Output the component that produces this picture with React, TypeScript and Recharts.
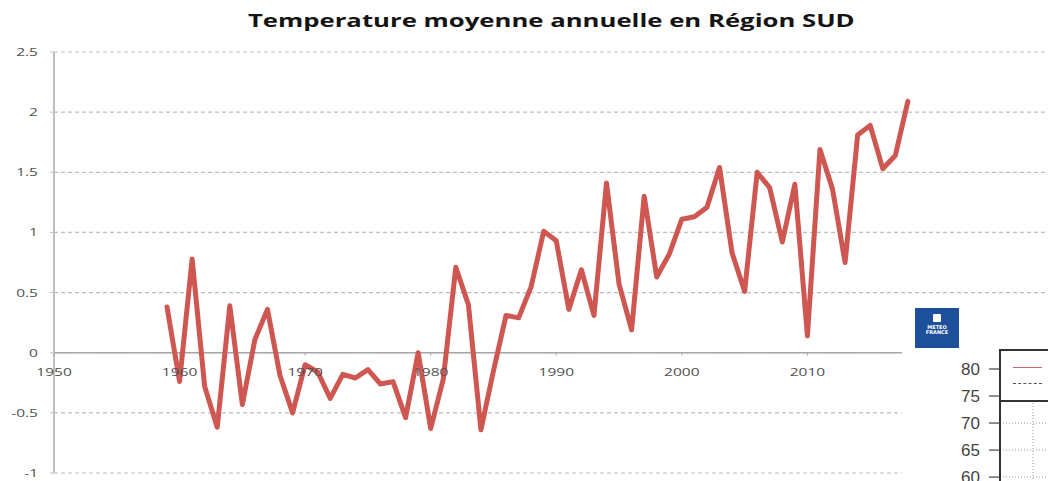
import React from "react";
import { LineChart, Line, XAxis, YAxis, CartesianGrid, ReferenceLine } from "recharts";

// ---- data ----
const YEARS = [
  1959, 1960, 1961, 1962, 1963, 1964, 1965, 1966, 1967, 1968,
  1969, 1970, 1971, 1972, 1973, 1974, 1975, 1976, 1977, 1978,
  1979, 1980, 1981, 1982, 1983, 1984, 1985, 1986, 1987, 1988,
  1989, 1990, 1991, 1992, 1993, 1994, 1995, 1996, 1997, 1998,
  1999, 2000, 2001, 2002, 2003, 2004, 2005, 2006, 2007, 2008,
  2009, 2010, 2011, 2012, 2013, 2014, 2015, 2016, 2017, 2018,
];
const ANOMALY = [
  0.38, -0.24, 0.78, -0.28, -0.62, 0.39, -0.43, 0.11, 0.36, -0.19,
  -0.5, -0.1, -0.16, -0.38, -0.18, -0.21, -0.14, -0.26, -0.24, -0.54,
  0.0, -0.63, -0.22, 0.71, 0.4, -0.64, -0.15, 0.31, 0.29, 0.55,
  1.01, 0.93, 0.36, 0.69, 0.31, 1.41, 0.57, 0.19, 1.3, 0.63,
  0.82, 1.11, 1.13, 1.21, 1.54, 0.83, 0.51, 1.5, 1.37, 0.92,
  1.4, 0.14, 1.69, 1.36, 0.75, 1.81, 1.89, 1.53, 1.64, 2.09,
];
const X_TICKS = [1950, 1960, 1970, 1980, 1990, 2000, 2010];
const Y_TICKS = [-1, -0.5, 0, 0.5, 1, 1.5, 2, 2.5];
const TITLE = "Temperature moyenne annuelle en Région SUD";

// second (partially hidden) chart
const SECOND_TICKS = [60, 65, 70, 75, 80];
const SECOND_CATS = ["a", "b"];

const data = YEARS.map((year, i) => ({ year, value: ANOMALY[i] }));
const secondData = SECOND_CATS.map((c) => ({ c, v: null }));

// ---- layout ----
const W = 1048;
const H = 481;
const M_TOP = 52;
const X_AXIS_H = 8;
const Y_AXIS_W = 54;
const M_RIGHT = 2;
const Y_MIN = -1;
const Y_MAX = 2.5;
const PLOT_H = H - M_TOP - X_AXIS_H;
const ZERO_Y = M_TOP + (PLOT_H * (Y_MAX - 0)) / (Y_MAX - Y_MIN);
const TICK_FONT = "'Open Sans', 'DejaVu Sans', sans-serif";

const XTick = (props: any) => {
  const { x, payload } = props;
  const ly = ZERO_Y + 19;
  return (
    <g>
      <line x1={x} x2={x} y1={ZERO_Y} y2={ZERO_Y + 3} stroke="#A6A6A6" strokeWidth={1} />
      <text
        transform={`translate(${x},${ly}) scale(1.35,1)`}
        textAnchor="middle"
        dy="0.35em"
        fontSize={11.5}
        fontFamily={TICK_FONT}
        fill="#505050"
      >
        {payload.value}
      </text>
    </g>
  );
};

const YTick = (props: any) => {
  const { x, y, payload } = props;
  return (
    <text
      transform={`translate(${x},${y}) scale(1.35,1)`}
      textAnchor="end"
      dy="0.35em"
      fontSize={11.5}
      fontFamily={TICK_FONT}
      fill="#505050"
    >
      {payload.value}
    </text>
  );
};

const SecondTick = (props: any) => {
  const { x, y, payload } = props;
  return (
    <text
      x={x}
      y={y}
      textAnchor="end"
      dy="0.35em"
      fontSize={17}
      fontFamily="'Liberation Sans', Arial, sans-serif"
      fill="#444444"
    >
      {payload.value}
    </text>
  );
};

export default function App() {
  return (
    <div
      style={{
        position: "absolute",
        left: 0,
        top: 0,
        width: W,
        height: H,
        background: "#ffffff",
        overflow: "hidden",
      }}
    >
      <div
        style={{
          position: "absolute",
          left: 0,
          width: 1102,
          top: 6,
          textAlign: "center",
          fontFamily: "'Open Sans', sans-serif",
          fontWeight: 700,
          fontSize: 18.5,
          color: "#141414",
          lineHeight: "28px",
        }}
      >
        <span style={{ display: "inline-block", transform: "scaleX(1.39)" }}>{TITLE}</span>
      </div>

      <div style={{ position: "absolute", left: 0, top: 0 }}>
        <LineChart
          width={W}
          height={H}
          data={data}
          margin={{ top: M_TOP, right: M_RIGHT, bottom: 0, left: 0 }}
        >
          <CartesianGrid
            horizontal
            vertical={false}
            stroke="#BDBDBD"
            strokeDasharray="4 3"
            strokeWidth={1.2}
          />
          <XAxis
            dataKey="year"
            type="number"
            domain={[1950, 2029]}
            ticks={X_TICKS}
            allowDataOverflow
            height={X_AXIS_H}
            axisLine={false}
            tickLine={false}
            tick={<XTick />}
            interval={0}
          />
          <YAxis
            type="number"
            domain={[Y_MIN, Y_MAX]}
            ticks={Y_TICKS}
            width={Y_AXIS_W}
            axisLine={{ stroke: "#BFBFBF", strokeWidth: 2 }}
            tickLine={{ stroke: "#BFBFBF", strokeWidth: 1 }}
            tickSize={4}
            tickMargin={12}
            tick={<YTick />}
            interval={0}
          />
          <ReferenceLine y={0} stroke="#A6A6A6" strokeWidth={1.5} ifOverflow="visible" />
          <Line
            type="linear"
            dataKey="value"
            stroke="#CF5752"
            strokeWidth={5}
            strokeLinejoin="round"
            strokeLinecap="round"
            dot={false}
            activeDot={false}
            isAnimationActive={false}
          />
        </LineChart>
      </div>

      {/* overlapping element at bottom right */}
      <div
        style={{
          position: "absolute",
          left: 902,
          top: 300,
          width: 146,
          height: 181,
          background: "#ffffff",
          overflow: "hidden",
        }}
      >
        <div
          style={{
            position: "absolute",
            left: 13,
            top: 8,
            width: 44,
            height: 40,
            background: "#1D4F9B",
            color: "#ffffff",
            fontFamily: "'DejaVu Sans', sans-serif",
            fontWeight: 700,
            fontSize: 5,
            lineHeight: "5px",
            textAlign: "center",
          }}
        >
          <div
            style={{
              width: 8,
              height: 8,
              margin: "6px auto 3px auto",
              background: "#ffffff",
              borderRadius: 1,
            }}
          />
          <div>METEO</div>
          <div>FRANCE</div>
        </div>

        <div style={{ position: "absolute", left: 28, top: 49 }}>
          <LineChart
            width={118}
            height={140}
            data={secondData}
            margin={{ top: 0, right: 0, bottom: 0, left: 0 }}
          >
            <CartesianGrid
              horizontal
              vertical
              verticalPoints={[103]}
              stroke="#9a9a9a"
              strokeDasharray="1 2"
            />
            <XAxis dataKey="c" hide />
            <YAxis
              type="number"
              domain={[57.8, 83.7]}
              ticks={SECOND_TICKS}
              allowDataOverflow
              width={70}
              axisLine={{ stroke: "#333333", strokeWidth: 2 }}
              tickLine={{ stroke: "#444444", strokeWidth: 1.2 }}
              tickSize={11}
              tickMargin={9}
              tick={<SecondTick />}
              interval={0}
            />
            <Line
              dataKey="v"
              stroke="#C46670"
              dot={false}
              activeDot={false}
              isAnimationActive={false}
            />
          </LineChart>
        </div>

        <div
          style={{
            position: "absolute",
            left: 99,
            top: 49,
            width: 60,
            height: 49,
            borderTop: "2px solid #333333",
            borderBottom: "2px solid #333333",
            background: "#ffffff",
          }}
        >
          <div
            style={{
              position: "absolute",
              left: 12,
              top: 16,
              width: 29,
              height: 0,
              borderTop: "1.5px solid #C46670",
            }}
          />
          <div
            style={{
              position: "absolute",
              left: 12,
              top: 32,
              width: 29,
              height: 0,
              borderTop: "1.5px dashed #555555",
            }}
          />
        </div>
      </div>
    </div>
  );
}
